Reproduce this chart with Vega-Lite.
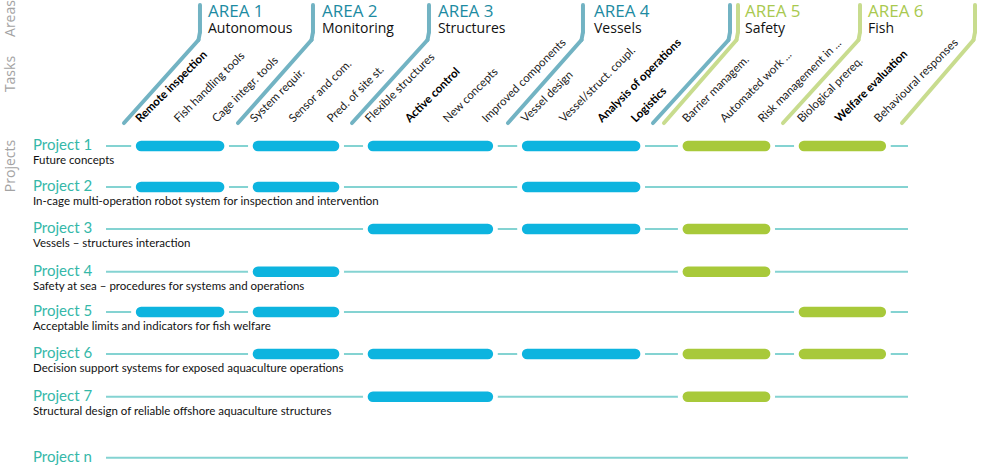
{
  "$schema": "https://vega.github.io/schema/vega-lite/v6.json",
  "width": 981,
  "height": 466,
  "autosize": {"type": "none"},
  "padding": 0,
  "background": "white",
  "config": {"view": {"stroke": null}},
  "resolve": {"scale": {"color": "independent"}},
  "datasets": {
    "areas": [
      {"area": "AREA 1", "name": "Autonomous", "theme": "Technical", "start": 0.08, "end": 2.11, "label_x": 1.82},
      {"area": "AREA 2", "name": "Monitoring", "theme": "Technical", "start": 3.12, "end": 5.10, "label_x": 4.785},
      {"area": "AREA 3", "name": "Structures", "theme": "Technical", "start": 6.11, "end": 9.10, "label_x": 7.80},
      {"area": "AREA 4", "name": "Vessels", "theme": "Technical", "start": 10.12, "end": 12.93, "label_x": 11.86},
      {"area": "AREA 5", "name": "Safety", "theme": "Safety and fish", "start": 14.30, "end": 16.31, "label_x": 15.787},
      {"area": "AREA 6", "name": "Fish", "theme": "Safety and fish", "start": 17.32, "end": 19.32, "label_x": 18.986}
    ],
    "projects": [
      {"project": "Project 1", "subtitle": "Future concepts", "row": 0},
      {"project": "Project 2", "subtitle": "In-cage multi-operation robot system for inspection and intervention", "row": 0.98},
      {"project": "Project 3", "subtitle": "Vessels – structures interaction", "row": 1.985},
      {"project": "Project 4", "subtitle": "Safety at sea – procedures for systems and operations", "row": 3.01},
      {"project": "Project 5", "subtitle": "Acceptable limits and indicators for fish welfare", "row": 3.97},
      {"project": "Project 6", "subtitle": "Decision support systems for exposed aquaculture operations", "row": 4.975},
      {"project": "Project 7", "subtitle": "Structural design of reliable offshore aquaculture structures", "row": 6.0},
      {"project": "Project n", "subtitle": "", "row": 7.46}
    ],
    "links": [
      {"project": "Project 1", "area": "AREA 1"},
      {"project": "Project 1", "area": "AREA 2"},
      {"project": "Project 1", "area": "AREA 3"},
      {"project": "Project 1", "area": "AREA 4"},
      {"project": "Project 1", "area": "AREA 5"},
      {"project": "Project 1", "area": "AREA 6"},
      {"project": "Project 2", "area": "AREA 1"},
      {"project": "Project 2", "area": "AREA 2"},
      {"project": "Project 2", "area": "AREA 4"},
      {"project": "Project 3", "area": "AREA 3"},
      {"project": "Project 3", "area": "AREA 4"},
      {"project": "Project 3", "area": "AREA 5"},
      {"project": "Project 4", "area": "AREA 2"},
      {"project": "Project 4", "area": "AREA 5"},
      {"project": "Project 5", "area": "AREA 1"},
      {"project": "Project 5", "area": "AREA 2"},
      {"project": "Project 5", "area": "AREA 6"},
      {"project": "Project 6", "area": "AREA 2"},
      {"project": "Project 6", "area": "AREA 3"},
      {"project": "Project 6", "area": "AREA 4"},
      {"project": "Project 6", "area": "AREA 5"},
      {"project": "Project 6", "area": "AREA 6"},
      {"project": "Project 7", "area": "AREA 3"},
      {"project": "Project 7", "area": "AREA 5"}
    ],
    "tasks": [
      {"task": "Remote inspection", "slot": 0.03, "bold": true},
      {"task": "Fish handling tools", "slot": 1.03, "bold": false},
      {"task": "Cage integr. tools", "slot": 2.02, "bold": false},
      {"task": "System requir.", "slot": 3.01, "bold": false},
      {"task": "Sensor and com.", "slot": 4.02, "bold": false},
      {"task": "Pred. of site st.", "slot": 5.01, "bold": false},
      {"task": "Flexible structures", "slot": 6.0, "bold": false},
      {"task": "Active control", "slot": 7.04, "bold": true},
      {"task": "New concepts", "slot": 8.03, "bold": false},
      {"task": "Improved components", "slot": 9.04, "bold": false},
      {"task": "Vessel design", "slot": 10.06, "bold": false},
      {"task": "Vessel/struct. coupl.", "slot": 11.05, "bold": false},
      {"task": "Analysis of operations", "slot": 12.04, "bold": true},
      {"task": "Logistics", "slot": 12.92, "bold": true},
      {"task": "Barrier managem.", "slot": 14.25, "bold": false},
      {"task": "Automated work ...", "slot": 15.23, "bold": false},
      {"task": "Risk management in ...", "slot": 16.22, "bold": false},
      {"task": "Biological prereq.", "slot": 17.24, "bold": false},
      {"task": "Welfare evaluation", "slot": 18.22, "bold": true},
      {"task": "Behavioural responses", "slot": 19.24, "bold": false}
    ],
    "brackets": [
      {"bracket": 1, "theme": "Technical", "top": 1.612, "bend": 1.573, "bottom": -0.364},
      {"bracket": 2, "theme": "Technical", "top": 4.551, "bend": 4.512, "bottom": 2.601},
      {"bracket": 3, "theme": "Technical", "top": 7.568, "bend": 7.529, "bottom": 5.566},
      {"bracket": 4, "theme": "Technical", "top": 11.573, "bend": 11.534, "bottom": 9.623},
      {"bracket": 5, "theme": "Technical", "top": 15.397, "bend": 15.358, "bottom": 13.394},
      {"bracket": 6, "theme": "Safety and fish", "top": 15.605, "bend": 15.566, "bottom": 13.68},
      {"bracket": 7, "theme": "Safety and fish", "top": 18.778, "bend": 18.739, "bottom": 16.775},
      {"bracket": 8, "theme": "Safety and fish", "top": 21.769, "bend": 21.73, "bottom": 19.87}
    ],
    "sections": [
      {"section": "Areas", "pos": -3.05},
      {"section": "Tasks", "pos": -1.722},
      {"section": "Projects", "pos": 0.478}
    ]
  },
  "layer": [
    {
      "data": {"name": "projects"},
      "mark": {"type": "rule", "color": "#84d3d2", "strokeWidth": 2},
      "encoding": {
        "x": {"datum": -0.832, "type": "quantitative", "scale": {"domain": [-3.589, 21.925], "nice": false, "zero": false}, "axis": null},
        "x2": {"datum": 20.026},
        "y": {"field": "row", "type": "quantitative", "scale": {"domain": [-3.493, 7.656], "nice": false, "zero": false, "reverse": true}, "axis": null}
      }
    },
    {
      "data": {"name": "links"},
      "transform": [
        {"lookup": "area", "from": {"data": {"name": "areas"}, "key": "area", "fields": ["start", "end", "theme"]}},
        {"lookup": "project", "from": {"data": {"name": "projects"}, "key": "project", "fields": ["row"]}}
      ],
      "mark": {"type": "rule", "color": "white", "strokeWidth": 20, "strokeCap": "round"},
      "encoding": {
        "x": {"field": "start", "type": "quantitative", "scale": {"domain": [-3.589, 21.925], "nice": false, "zero": false}, "axis": null},
        "x2": {"field": "end"},
        "y": {"field": "row", "type": "quantitative", "scale": {"domain": [-3.493, 7.656], "nice": false, "zero": false, "reverse": true}, "axis": null}
      }
    },
    {
      "data": {"name": "links"},
      "transform": [
        {"lookup": "area", "from": {"data": {"name": "areas"}, "key": "area", "fields": ["start", "end", "theme"]}},
        {"lookup": "project", "from": {"data": {"name": "projects"}, "key": "project", "fields": ["row"]}}
      ],
      "mark": {"type": "rule", "strokeWidth": 10.5, "strokeCap": "round"},
      "encoding": {
        "x": {"field": "start", "type": "quantitative", "scale": {"domain": [-3.589, 21.925], "nice": false, "zero": false}, "axis": null},
        "x2": {"field": "end"},
        "y": {"field": "row", "type": "quantitative", "scale": {"domain": [-3.493, 7.656], "nice": false, "zero": false, "reverse": true}, "axis": null},
        "color": {"field": "theme", "type": "nominal", "scale": {"domain": ["Technical", "Safety and fish"], "range": ["#0db4df", "#a8c93a"]}, "legend": null}
      }
    },
    {
      "data": {"name": "projects"},
      "mark": {"type": "text", "align": "left", "baseline": "alphabetic", "dy": 4, "font": "Lato", "fontSize": 15, "color": "#35b8a9"},
      "encoding": {
        "x": {"datum": -2.731, "type": "quantitative", "scale": {"domain": [-3.589, 21.925], "nice": false, "zero": false}, "axis": null},
        "y": {"field": "row", "type": "quantitative", "scale": {"domain": [-3.493, 7.656], "nice": false, "zero": false, "reverse": true}, "axis": null},
        "text": {"field": "project"}
      }
    },
    {
      "data": {"name": "projects"},
      "mark": {"type": "text", "align": "left", "baseline": "alphabetic", "dy": 18, "font": "Lato", "fontSize": 11.5, "color": "#111111"},
      "encoding": {
        "x": {"datum": -2.731, "type": "quantitative", "scale": {"domain": [-3.589, 21.925], "nice": false, "zero": false}, "axis": null},
        "y": {"field": "row", "type": "quantitative", "scale": {"domain": [-3.493, 7.656], "nice": false, "zero": false, "reverse": true}, "axis": null},
        "text": {"field": "subtitle"}
      }
    },
    {
      "data": {"name": "tasks"},
      "transform": [{"filter": "!datum.bold"}],
      "mark": {"type": "text", "align": "left", "baseline": "alphabetic", "angle": -45, "dy": 1.5, "font": "Lato", "fontSize": 11.5, "color": "#1a1a1a"},
      "encoding": {
        "x": {"field": "slot", "type": "quantitative", "scale": {"domain": [-3.589, 21.925], "nice": false, "zero": false}, "axis": null},
        "y": {"datum": -0.574, "type": "quantitative", "scale": {"domain": [-3.493, 7.656], "nice": false, "zero": false, "reverse": true}, "axis": null},
        "text": {"field": "task"}
      }
    },
    {
      "data": {"name": "tasks"},
      "transform": [{"filter": "datum.bold"}],
      "mark": {"type": "text", "align": "left", "baseline": "alphabetic", "angle": -45, "dy": 1.5, "font": "Lato", "fontSize": 11.5, "fontWeight": "bold", "color": "#000000"},
      "encoding": {
        "x": {"field": "slot", "type": "quantitative", "scale": {"domain": [-3.589, 21.925], "nice": false, "zero": false}, "axis": null},
        "y": {"datum": -0.574, "type": "quantitative", "scale": {"domain": [-3.493, 7.656], "nice": false, "zero": false, "reverse": true}, "axis": null},
        "text": {"field": "task"}
      }
    },
    {
      "data": {"name": "brackets"},
      "mark": {"type": "rule", "strokeWidth": 4, "strokeCap": "round"},
      "encoding": {
        "x": {"field": "top", "type": "quantitative", "scale": {"domain": [-3.589, 21.925], "nice": false, "zero": false}, "axis": null},
        "y": {"datum": -3.373, "type": "quantitative", "scale": {"domain": [-3.493, 7.656], "nice": false, "zero": false, "reverse": true}, "axis": null},
        "y2": {"datum": -2.727},
        "color": {"field": "theme", "type": "nominal", "scale": {"domain": ["Technical", "Safety and fish"], "range": ["#72b3c3", "#c8dc8e"]}, "legend": null}
      }
    },
    {
      "data": {"name": "brackets"},
      "mark": {"type": "rule", "strokeWidth": 4, "strokeCap": "round"},
      "encoding": {
        "x": {"field": "top", "type": "quantitative", "scale": {"domain": [-3.589, 21.925], "nice": false, "zero": false}, "axis": null},
        "x2": {"field": "bend"},
        "y": {"datum": -2.727, "type": "quantitative", "scale": {"domain": [-3.493, 7.656], "nice": false, "zero": false, "reverse": true}, "axis": null},
        "y2": {"datum": -2.536},
        "color": {"field": "theme", "type": "nominal", "scale": {"domain": ["Technical", "Safety and fish"], "range": ["#72b3c3", "#c8dc8e"]}, "legend": null}
      }
    },
    {
      "data": {"name": "brackets"},
      "mark": {"type": "rule", "strokeWidth": 4, "strokeCap": "round"},
      "encoding": {
        "x": {"field": "bend", "type": "quantitative", "scale": {"domain": [-3.589, 21.925], "nice": false, "zero": false}, "axis": null},
        "x2": {"field": "bottom"},
        "y": {"datum": -2.536, "type": "quantitative", "scale": {"domain": [-3.493, 7.656], "nice": false, "zero": false, "reverse": true}, "axis": null},
        "y2": {"datum": -0.55},
        "color": {"field": "theme", "type": "nominal", "scale": {"domain": ["Technical", "Safety and fish"], "range": ["#72b3c3", "#c8dc8e"]}, "legend": null}
      }
    },
    {
      "data": {"name": "areas"},
      "mark": {"type": "text", "align": "left", "baseline": "alphabetic", "font": "Open Sans", "fontSize": 17},
      "encoding": {
        "x": {"field": "label_x", "type": "quantitative", "scale": {"domain": [-3.589, 21.925], "nice": false, "zero": false}, "axis": null},
        "y": {"datum": -3.086, "type": "quantitative", "scale": {"domain": [-3.493, 7.656], "nice": false, "zero": false, "reverse": true}, "axis": null},
        "text": {"field": "area"},
        "color": {"field": "theme", "type": "nominal", "scale": {"domain": ["Technical", "Safety and fish"], "range": ["#1d8ba2", "#a9c94f"]}, "legend": null}
      }
    },
    {
      "data": {"name": "areas"},
      "mark": {"type": "text", "align": "left", "baseline": "alphabetic", "font": "Open Sans", "fontSize": 14, "color": "#111111"},
      "encoding": {
        "x": {"field": "label_x", "type": "quantitative", "scale": {"domain": [-3.589, 21.925], "nice": false, "zero": false}, "axis": null},
        "y": {"datum": -2.703, "type": "quantitative", "scale": {"domain": [-3.493, 7.656], "nice": false, "zero": false, "reverse": true}, "axis": null},
        "text": {"field": "name"}
      }
    },
    {
      "data": {"name": "sections"},
      "mark": {"type": "text", "align": "center", "baseline": "alphabetic", "angle": -90, "font": "Open Sans", "fontSize": 14, "color": "#a3a3a3"},
      "encoding": {
        "x": {"datum": -3.186, "type": "quantitative", "scale": {"domain": [-3.589, 21.925], "nice": false, "zero": false}, "axis": null},
        "y": {"field": "pos", "type": "quantitative", "scale": {"domain": [-3.493, 7.656], "nice": false, "zero": false, "reverse": true}, "axis": null},
        "text": {"field": "section"}
      }
    }
  ]
}
